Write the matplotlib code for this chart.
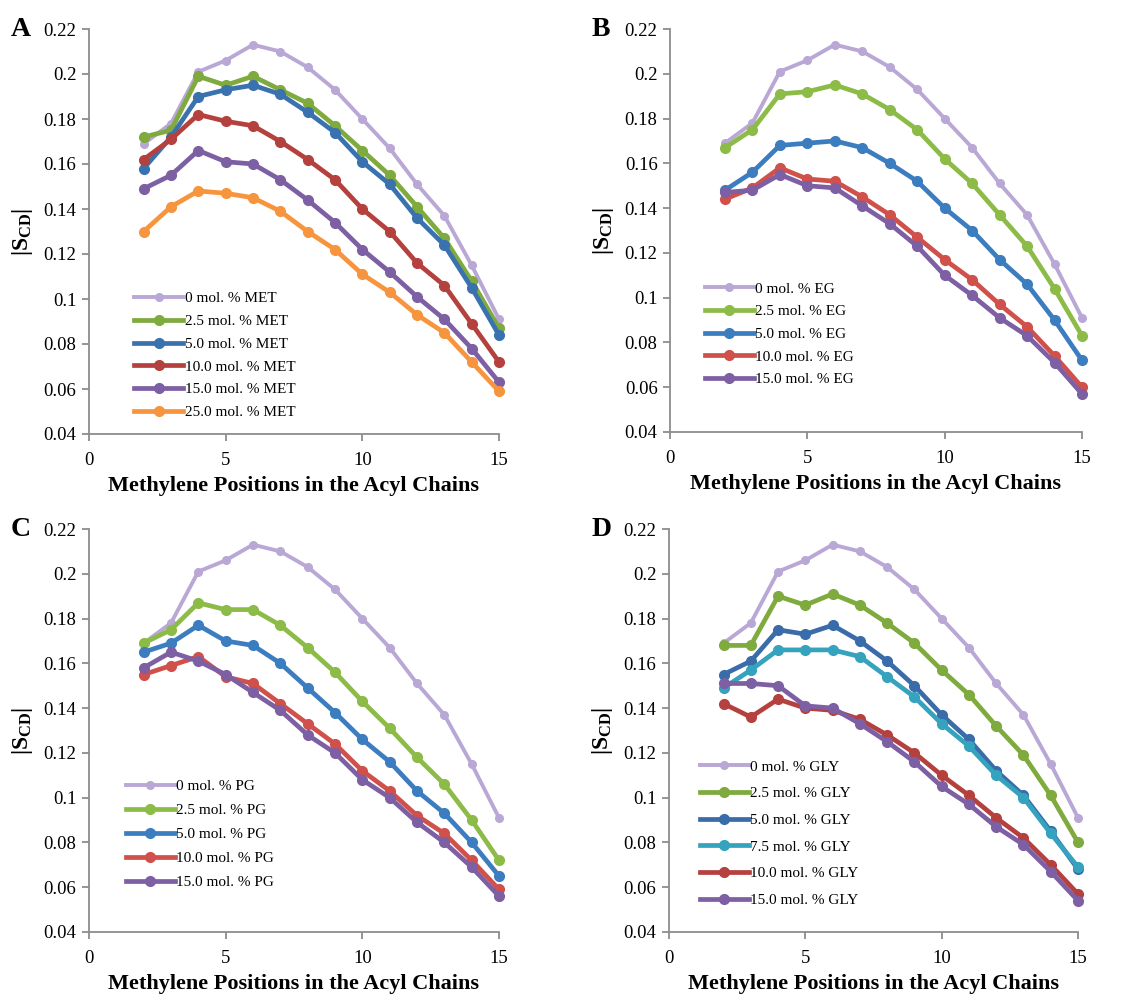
import numpy as np
import matplotlib
matplotlib.use('Agg')
import matplotlib.pyplot as plt

plt.rcParams['font.family'] = ['Liberation Serif', 'DejaVu Serif']
plt.rcParams['mathtext.fontset'] = 'custom'
plt.rcParams['mathtext.rm'] = 'Liberation Serif'
plt.rcParams['mathtext.bf'] = 'Liberation Serif:bold'

# Methylene positions
positions = [2, 3, 4, 5, 6, 7, 8, 9, 10, 11, 12, 13, 14, 15]

# Pure lipid (same in all panels)
pure = [0.169, 0.178, 0.201, 0.206, 0.213, 0.210, 0.203, 0.193, 0.180, 0.167, 0.151, 0.137, 0.115, 0.091]

# Panel A - MET
met_25 = [0.172, 0.175, 0.199, 0.195, 0.199, 0.193, 0.187, 0.177, 0.166, 0.155, 0.141, 0.127, 0.108, 0.087]
met_50 = [0.158, 0.172, 0.190, 0.193, 0.195, 0.191, 0.183, 0.174, 0.161, 0.151, 0.136, 0.124, 0.105, 0.084]
met_100 = [0.162, 0.171, 0.182, 0.179, 0.177, 0.170, 0.162, 0.153, 0.140, 0.130, 0.116, 0.106, 0.089, 0.072]
met_150 = [0.149, 0.155, 0.166, 0.161, 0.160, 0.153, 0.144, 0.134, 0.122, 0.112, 0.101, 0.091, 0.078, 0.063]
met_250 = [0.130, 0.141, 0.148, 0.147, 0.145, 0.139, 0.130, 0.122, 0.111, 0.103, 0.093, 0.085, 0.072, 0.059]

# Panel B - EG
eg_25 = [0.167, 0.175, 0.191, 0.192, 0.195, 0.191, 0.184, 0.175, 0.162, 0.151, 0.137, 0.123, 0.104, 0.083]
eg_50 = [0.148, 0.156, 0.168, 0.169, 0.170, 0.167, 0.160, 0.152, 0.140, 0.130, 0.117, 0.106, 0.090, 0.072]
eg_100 = [0.144, 0.149, 0.158, 0.153, 0.152, 0.145, 0.137, 0.127, 0.117, 0.108, 0.097, 0.087, 0.074, 0.060]
eg_150 = [0.147, 0.148, 0.155, 0.150, 0.149, 0.141, 0.133, 0.123, 0.110, 0.101, 0.091, 0.083, 0.071, 0.057]

# Panel C - PG
pg_25 = [0.169, 0.175, 0.187, 0.184, 0.184, 0.177, 0.167, 0.156, 0.143, 0.131, 0.118, 0.106, 0.090, 0.072]
pg_50 = [0.165, 0.169, 0.177, 0.170, 0.168, 0.160, 0.149, 0.138, 0.126, 0.116, 0.103, 0.093, 0.080, 0.065]
pg_100 = [0.155, 0.159, 0.163, 0.154, 0.151, 0.142, 0.133, 0.124, 0.112, 0.103, 0.092, 0.084, 0.072, 0.059]
pg_150 = [0.158, 0.165, 0.161, 0.155, 0.147, 0.139, 0.128, 0.120, 0.108, 0.100, 0.089, 0.080, 0.069, 0.056]

# Panel D - GLY
gly_25 = [0.168, 0.168, 0.190, 0.186, 0.191, 0.186, 0.178, 0.169, 0.157, 0.146, 0.132, 0.119, 0.101, 0.080]
gly_50 = [0.155, 0.161, 0.175, 0.173, 0.177, 0.170, 0.161, 0.150, 0.137, 0.126, 0.112, 0.101, 0.085, 0.068]
gly_75 = [0.149, 0.157, 0.166, 0.166, 0.166, 0.163, 0.154, 0.145, 0.133, 0.123, 0.110, 0.100, 0.084, 0.069]
gly_100 = [0.142, 0.136, 0.144, 0.140, 0.139, 0.135, 0.128, 0.120, 0.110, 0.101, 0.091, 0.082, 0.070, 0.057]
gly_150 = [0.151, 0.151, 0.150, 0.141, 0.140, 0.133, 0.125, 0.116, 0.105, 0.097, 0.087, 0.079, 0.067, 0.054]

lavender = '#B9A8D5'
green = '#8DBB48'
blue = '#3C7DC0'
red = '#C0504D'
purple = '#7D5FA3'
orange = '#F7953F'
teal = '#35A2BE'

panels = [
    ('A', 'MET', [('0', pure, lavender), ('2.5', met_25, '#7FAA3E'), ('5.0', met_50, '#3A72B0'),
                  ('10.0', met_100, '#B5413F'), ('15.0', met_150, purple), ('25.0', met_250, orange)]),
    ('B', 'EG', [('0', pure, lavender), ('2.5', eg_25, green), ('5.0', eg_50, blue),
                 ('10.0', eg_100, '#D0504B'), ('15.0', eg_150, purple)]),
    ('C', 'PG', [('0', pure, lavender), ('2.5', pg_25, green), ('5.0', pg_50, blue),
                 ('10.0', pg_100, '#D0504B'), ('15.0', pg_150, purple)]),
    ('D', 'GLY', [('0', pure, lavender), ('2.5', gly_25, '#7FAA3E'), ('5.0', gly_50, '#3A6CAA'),
                  ('7.5', gly_75, teal), ('10.0', gly_100, '#B5413F'), ('15.0', gly_150, purple)]),
]

# axes boxes in pixels: left, top, right, bottom
W, H = 1129, 994
boxes = [(89, 29, 499, 434), (670, 29, 1082, 432), (89, 529, 499, 932), (669, 529, 1078, 932)]
# legend anchor x, y (axes fraction) and label spacing
legend_pos = [(0.11, 0.037, 0.59), (0.085, 0.114, 0.58), (0.09, 0.107, 0.67), (0.075, 0.062, 0.85)]

fig = plt.figure(figsize=(W / 100, H / 100), dpi=100)
yticks = [0.04, 0.06, 0.08, 0.1, 0.12, 0.14, 0.16, 0.18, 0.2, 0.22]

for (letter, name, series), (l, t, r, b), (lx, ly, lsp) in zip(panels, boxes, legend_pos):
    ax = fig.add_axes([l / W, 1 - b / H, (r - l) / W, (b - t) / H])
    for conc, vals, col in series:
        if conc == '0':
            ax.plot(positions, vals, color=col, lw=2.8, marker='o', ms=5.5,
                    label=f'{conc} mol. % {name}', clip_on=False, zorder=2)
        else:
            ax.plot(positions, vals, color=col, lw=3.4, marker='o', ms=7,
                    label=f'{conc} mol. % {name}', clip_on=False, zorder=3)
    ax.set_xlim(0, 15)
    ax.set_ylim(0.04, 0.22)
    ax.set_xticks([0, 5, 10, 15])
    ax.set_yticks(yticks)
    ax.set_yticklabels(['%g' % v for v in yticks])
    for s in ['top', 'right']:
        ax.spines[s].set_visible(False)
    for s in ['left', 'bottom']:
        ax.spines[s].set_color('#8C8C8C')
        ax.spines[s].set_linewidth(1.3)
    ax.tick_params(direction='out', length=5, width=1.3, color='#8C8C8C', labelsize=13.5)
    ax.tick_params(axis='x', pad=8)
    ax.tick_params(axis='y', pad=4)
    ax.set_xlabel('Methylene Positions in the Acyl Chains', fontsize=16, fontweight='bold', labelpad=5)
    ax.set_ylabel(r'$\mathbf{|S_{CD}|}$', fontsize=17, labelpad=6)
    ax.text(-0.19, 1.0, letter, transform=ax.transAxes, fontsize=20, fontweight='bold',
            ha='left', va='center')
    ax.legend(loc='lower left', bbox_to_anchor=(lx, ly), frameon=False, fontsize=11,
              handlelength=3.2, handletextpad=0.1, labelspacing=lsp, borderpad=0, borderaxespad=0)

plt.savefig('out.png', dpi=100)
